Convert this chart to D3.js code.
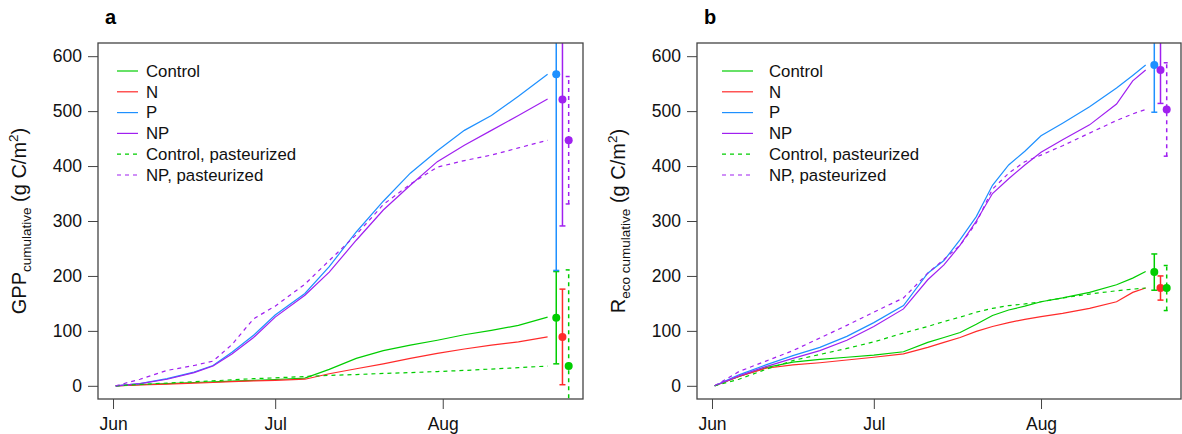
<!DOCTYPE html>
<html>
<head>
<meta charset="utf-8">
<script src="https://cdn.jsdelivr.net/npm/d3@7"></script>
<style>
  body { margin: 0; background: #fff; }
  svg { display: block; font-family: "Liberation Sans", Arial, sans-serif; }
</style>
</head>
<body>
<svg id="chart" width="1182" height="434"></svg>
<script>
// series names, in legend order
const seriesNames = ["Control", "N", "P", "NP", "Control, pasteurized", "NP, pasteurized"];
const seriesColors = ["#00cd00", "#ff2a2a", "#1e90ff", "#a020f0", "#00cd00", "#a020f0"];
const seriesDashed = [false, false, false, false, true, true];
const monthLabels = ["Jun", "Jul", "Aug"];
const yTicks = [0, 100, 200, 300, 400, 500, 600];

// days since Jun 1 for panel a curves
const daysA = [0.5, 5, 10, 15, 18.5, 22, 26, 30, 35.5, 40, 45, 50, 55, 60, 65, 70, 75, 80.4];
const gppControl = [0, 2, 4, 6, 7, 8.5, 10, 11.5, 14, 30, 50, 64, 74, 83, 93, 101, 110, 125];
const gppN       = [0, 1.5, 3, 5, 6, 7.5, 9, 10, 12, 22, 31, 40, 50, 59, 67, 74, 80, 89];
const gppP       = [0, 4, 13, 25, 37, 61, 92, 129, 168, 217, 280, 336, 387, 428, 465, 492, 527, 567];
const gppNP      = [0, 4, 12, 24, 36, 58, 88, 125, 165, 207, 265, 320, 365, 408, 438, 465, 492, 522];
const gppControlPast = [0, 2.5, 5, 7.5, 9, 11, 13, 14.5, 17, 19, 20.5, 22.5, 24, 26, 28, 30.5, 33, 36];
const gppNPPast  = [0, 12, 28, 37, 45, 75, 122, 145, 185, 228, 275, 330, 367, 398, 410, 420, 433, 447];

// days since Jun 1 for panel b curves
const daysB = [0.5, 5, 10, 15, 20, 25, 30, 35.5, 40, 43, 46, 49, 52, 55, 58, 61, 65, 70, 75, 78, 80.4];
const recoControl = [0, 17, 33, 43, 48, 52, 56, 62, 79, 88, 97, 112, 128, 138, 145, 153, 160, 170, 184, 196, 208];
const recoN       = [0, 17, 32, 38, 42, 47, 52, 58, 70, 79, 88, 99, 108, 115, 121, 126, 132, 141, 153, 170, 178];
const recoP       = [0, 20, 38, 55, 70, 90, 115, 146, 205, 228, 266, 308, 365, 402, 427, 455, 478, 508, 542, 565, 584];
const recoNP      = [0, 18, 35, 50, 64, 83, 108, 140, 193, 220, 256, 300, 350, 377, 402, 425, 448, 475, 513, 555, 575];
const recoControlPast = [0, 12, 30, 46, 57, 68, 80, 96, 108, 117, 125, 134, 141, 146, 149, 153, 160, 167, 173, 176, 178];
const recoNPPast  = [0, 26, 45, 64, 87, 110, 134, 160, 205, 230, 256, 297, 358, 387, 408, 420, 437, 460, 483, 495, 503];

// end-of-season means and errors (same order as seriesNames)
const pointDays = [82.0, 83.15, 84.3];
const seriesColumn = [0, 1, 0, 1, 2, 2];
const gppMean = [124, 89, 567, 521, 36, 447];
const gppErr  = [84, 87, 357, 230, 175, 116];
const recoMean = [207, 178, 584, 575, 178, 503];
const recoErr  = [33, 22, 86, 61, 41, 85];

const svg = d3.select("#chart");
const jun1 = new Date(2015, 5, 1);
const dayMs = 864e5;
const toDate = d => new Date(jun1.getTime() + d * dayMs);
const monthDates = [new Date(2015, 5, 1), new Date(2015, 6, 1), new Date(2015, 7, 1)];

function drawPanel(p) {
  const x = d3.scaleTime()
    .domain([toDate(-2.78), toDate(86.95)])
    .range([p.left, p.right]);
  const y = d3.scaleLinear()
    .domain([-24, 624])
    .range([399, 43]);

  const g = svg.append("g");

  g.append("defs").append("clipPath")
    .attr("id", p.id + "-clip")
    .append("rect")
    .attr("x", p.left).attr("y", 43)
    .attr("width", p.right - p.left).attr("height", 399 - 43);

  // panel letter
  g.append("text")
    .attr("x", p.left + 7).attr("y", 24)
    .attr("font-size", "20px").attr("font-weight", "bold")
    .text(p.letter);

  // y axis
  const yAxis = g.append("g")
    .attr("transform", `translate(${p.left},0)`)
    .call(d3.axisLeft(y).tickValues(yTicks).tickSize(10).tickPadding(6));
  yAxis.select(".domain").remove();
  yAxis.selectAll("line").attr("stroke", "#444");
  yAxis.selectAll("text").attr("font-size", "17.5px").attr("fill", "#111")
    .attr("font-family", "Liberation Sans, Arial, sans-serif");

  // x axis
  const xAxis = g.append("g")
    .attr("transform", "translate(0,399)")
    .call(d3.axisBottom(x).tickValues(monthDates).tickSize(10).tickPadding(9)
      .tickFormat((d, i) => monthLabels[i]));
  xAxis.select(".domain").remove();
  xAxis.selectAll("line").attr("stroke", "#444");
  xAxis.selectAll("text").attr("font-size", "17.5px").attr("fill", "#111")
    .attr("font-family", "Liberation Sans, Arial, sans-serif");

  // y label
  const lab = g.append("text")
    .attr("transform", `translate(${p.labelX},221) rotate(-90)`)
    .attr("text-anchor", "middle")
    .attr("font-size", "20px")
    .attr("fill", "#111");
  lab.append("tspan").text(p.labelMain);
  lab.append("tspan").attr("font-size", "13.5px").attr("dy", 5).text(p.labelSub);
  lab.append("tspan").attr("dy", -5).text(" (g C/m");
  lab.append("tspan").attr("font-size", "13.5px").attr("dy", -8).text("2");
  lab.append("tspan").attr("dy", 8).text(")");

  const plot = g.append("g").attr("clip-path", `url(#${p.id}-clip)`);

  const line = d3.line()
    .x(d => x(toDate(d[0])))
    .y(d => y(d[1]));

  p.series.forEach((vals, i) => {
    plot.append("path")
      .datum(p.days.map((d, j) => [d, vals[j]]))
      .attr("d", line)
      .attr("fill", "none")
      .attr("stroke", seriesColors[i])
      .attr("stroke-width", 1.2)
      .attr("stroke-dasharray", seriesDashed[i] ? "4,4" : null);
  });

  // error bars and means
  p.mean.forEach((m, i) => {
    const cx = x(toDate(pointDays[seriesColumn[i]]));
    const lo = m - p.err[i], hi = m + p.err[i];
    const bar = plot.append("g")
      .attr("stroke", seriesColors[i])
      .attr("stroke-width", 1.5)
      .attr("stroke-dasharray", seriesDashed[i] ? "4,4" : null);
    bar.append("line")
      .attr("x1", cx).attr("x2", cx)
      .attr("y1", y(lo)).attr("y2", y(hi));
    [lo, hi].forEach(v => {
      bar.append("line")
        .attr("x1", cx - 3).attr("x2", cx + 3)
        .attr("y1", y(v)).attr("y2", y(v))
        .attr("stroke-dasharray", null);
    });
    plot.append("circle")
      .attr("cx", cx).attr("cy", y(m))
      .attr("r", 4)
      .attr("fill", seriesColors[i]);
  });

  // box
  g.append("rect")
    .attr("x", p.left).attr("y", 43)
    .attr("width", p.right - p.left).attr("height", 399 - 43)
    .attr("fill", "none")
    .attr("stroke", "#444")
    .attr("stroke-width", 1.3);

  // legend
  const legend = g.append("g");
  seriesNames.forEach((name, i) => {
    const ly = 71 + i * 20.8;
    legend.append("line")
      .attr("x1", p.legX1).attr("x2", p.legX2)
      .attr("y1", ly).attr("y2", ly)
      .attr("stroke", seriesColors[i])
      .attr("stroke-width", 1.2)
      .attr("stroke-dasharray", seriesDashed[i] ? "4,4" : null);
    legend.append("text")
      .attr("x", p.legText).attr("y", ly)
      .attr("dy", "0.35em")
      .attr("font-size", "16.8px")
      .attr("fill", "#111")
      .text(name);
  });
}

drawPanel({
  id: "a", letter: "a", left: 98, right: 583, labelX: 26,
  labelMain: "GPP", labelSub: "cumulative",
  legX1: 117, legX2: 138, legText: 146,
  days: daysA,
  series: [gppControl, gppN, gppP, gppNP, gppControlPast, gppNPPast],
  mean: gppMean, err: gppErr
});

drawPanel({
  id: "b", letter: "b", left: 697, right: 1181, labelX: 625,
  labelMain: "R", labelSub: "eco cumulative",
  legX1: 722, legX2: 753, legText: 769,
  days: daysB,
  series: [recoControl, recoN, recoP, recoNP, recoControlPast, recoNPPast],
  mean: recoMean, err: recoErr
});
</script>
</body>
</html>
